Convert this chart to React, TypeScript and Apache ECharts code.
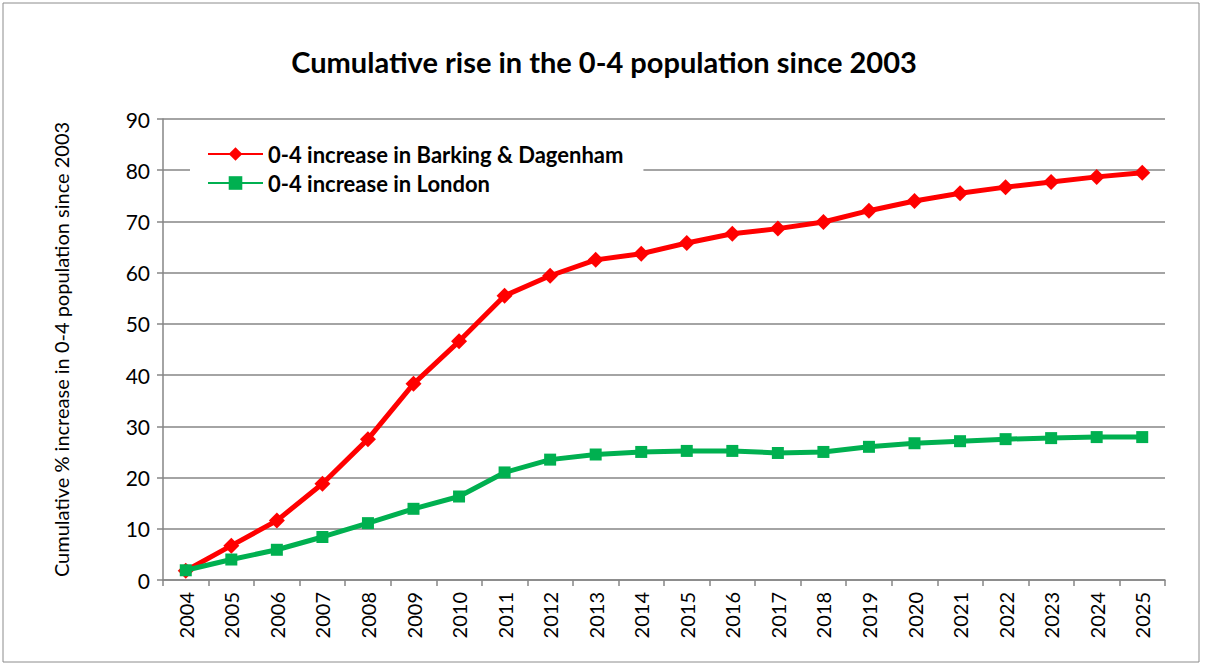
import React, { useEffect, useRef } from "react";
import * as echarts from "echarts";

const years = ["2004","2005","2006","2007","2008","2009","2010","2011","2012","2013","2014","2015","2016","2017","2018","2019","2020","2021","2022","2023","2024","2025"];
const barkingDagenham = [1.8, 6.7, 11.6, 18.8, 27.5, 38.3, 46.6, 55.5, 59.4, 62.5, 63.7, 65.8, 67.6, 68.6, 69.9, 72.1, 74.0, 75.5, 76.7, 77.7, 78.7, 79.5];
const london = [1.9, 4.0, 5.9, 8.4, 11.1, 13.9, 16.3, 21.0, 23.5, 24.5, 25.0, 25.2, 25.2, 24.8, 25.0, 26.0, 26.7, 27.1, 27.5, 27.7, 27.9, 27.9];
const seriesNames = ["0-4 increase in Barking & Dagenham", "0-4 increase in London"];
const FONT = "Lato, 'Open Sans', sans-serif";

export default function App() {
  const ref = useRef<HTMLDivElement>(null);
  useEffect(() => {
    document.body.style.margin = "0";
    const chart = echarts.init(ref.current!, null, { renderer: "svg" });
    const grey = "#868686";
    chart.setOption({
      animation: false,
      backgroundColor: "#fff",
      textStyle: { fontFamily: FONT },
      title: {
        text: "Cumulative rise in the 0-4 population since 2003",
        left: "center",
        top: 42,
        textStyle: { fontSize: 29, fontWeight: "bold", color: "#000", fontFamily: FONT },
      },
      graphic: [
        { type: "rect", shape: { x: 3, y: 3, width: 1196, height: 659 }, style: { fill: "none", stroke: "#8c8c8c", lineWidth: 1 }, silent: true },
      ],
      legend: {
        orient: "vertical",
        left: 190,
        top: 138,
        itemWidth: 55,
        itemHeight: 17,
        itemGap: 7,
        padding: [5, 20, 5, 17],
        backgroundColor: "#fff",
        textStyle: { fontSize: 22, fontWeight: "bold", color: "#000", fontFamily: FONT },
        data: seriesNames,
      },
      grid: { left: 163, right: 43, top: 119, bottom: 86 },
      xAxis: {
        type: "category",
        data: years,
        boundaryGap: true,
        axisLine: { lineStyle: { color: grey, width: 1.5 } },
        axisTick: { show: true, length: 6, lineStyle: { color: grey, width: 1.5 }, interval: 0 },
        axisLabel: { rotate: 90, fontSize: 20, color: "#000", margin: 12, interval: 0, fontFamily: FONT },
      },
      yAxis: {
        type: "value",
        min: 0,
        max: 90,
        interval: 10,
        name: "Cumulative % increase in 0-4 population since 2003",
        nameLocation: "middle",
        nameGap: 92,
        nameTextStyle: { fontSize: 20, color: "#000", fontFamily: FONT },
        axisLine: { show: true, lineStyle: { color: grey, width: 1.5 } },
        axisTick: { show: true, length: 6, lineStyle: { color: grey, width: 1.5 } },
        axisLabel: { fontSize: 21, color: "#000", margin: 13, fontFamily: FONT },
        splitLine: { lineStyle: { color: grey, width: 1.5 } },
      },
      series: [
        {
          name: seriesNames[0],
          type: "line",
          data: barkingDagenham,
          symbol: "diamond",
          symbolSize: 16,
          itemStyle: { color: "#FF0000" },
          lineStyle: { color: "#FF0000", width: 5 },
          z: 3,
        },
        {
          name: seriesNames[1],
          type: "line",
          data: london,
          symbol: "rect",
          symbolSize: 12,
          itemStyle: { color: "#00B050" },
          lineStyle: { color: "#00B050", width: 5 },
          z: 4,
        },
      ],
    });
    return () => chart.dispose();
  }, []);
  return <div ref={ref} style={{ position: "absolute", left: 0, top: 0, width: 1208, height: 666 }} />;
}
